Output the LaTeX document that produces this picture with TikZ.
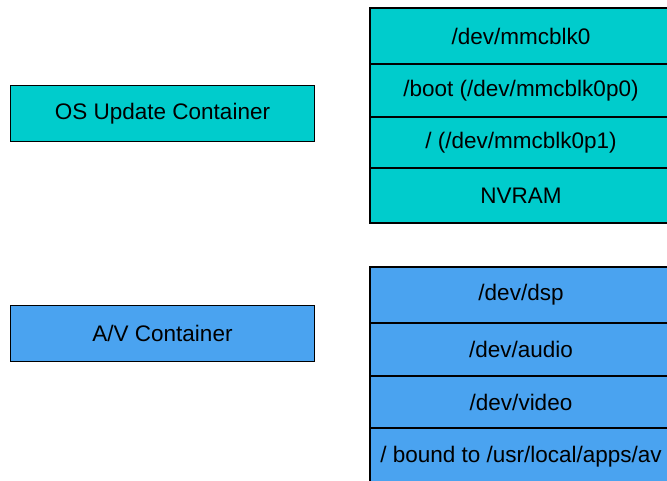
\documentclass[tikz,border=0pt]{standalone}
\usepackage{fontspec}
\setmainfont{Liberation Sans}
\definecolor{teal1}{RGB}{0,204,204}
\definecolor{blue1}{RGB}{74,163,240}
\begin{document}
\begin{tikzpicture}[x=1pt,y=-1pt,
  box/.style={draw=black,line width=1.1pt,rectangle,inner sep=0pt,font=\fontsize{22.5}{26}\selectfont},
  osbox/.style={box,fill=teal1},
  avbox/.style={box,fill=blue1}]
\useasboundingbox (0,0) rectangle (667,480);
\fill[white] (0,0) rectangle (667,480);
% left containers
\node[osbox,minimum width=304pt,minimum height=56pt] (os) at (162.5,113.5) {OS Update Container};
\node[avbox,minimum width=304pt,minimum height=56pt] (av) at (162.5,333.5) {A/V Container};
% top stack
\node[osbox,minimum width=302pt,minimum height=56pt] (t1) at (521,36) {/dev/mmcblk0};
\node[osbox,minimum width=302pt,minimum height=53pt] (t2) at (521,90.5) {/boot (/dev/mmcblk0p0)};
\node[osbox,minimum width=302pt,minimum height=51pt] (t3) at (521,142.5) {/ (/dev/mmcblk0p1)};
\node[osbox,minimum width=302pt,minimum height=55pt] (t4) at (521,195.5) {NVRAM};
% bottom stack
\node[avbox,minimum width=302pt,minimum height=56pt] (b1) at (521,295) {/dev/dsp};
\node[avbox,minimum width=302pt,minimum height=53pt] (b2) at (521,349.5) {/dev/audio};
\node[avbox,minimum width=302pt,minimum height=52pt] (b3) at (521,402) {/dev/video};
\node[avbox,minimum width=302pt,minimum height=58pt] (b4) at (521,457) {/ bound to /usr/local/apps/av};
\end{tikzpicture}
\end{document}
